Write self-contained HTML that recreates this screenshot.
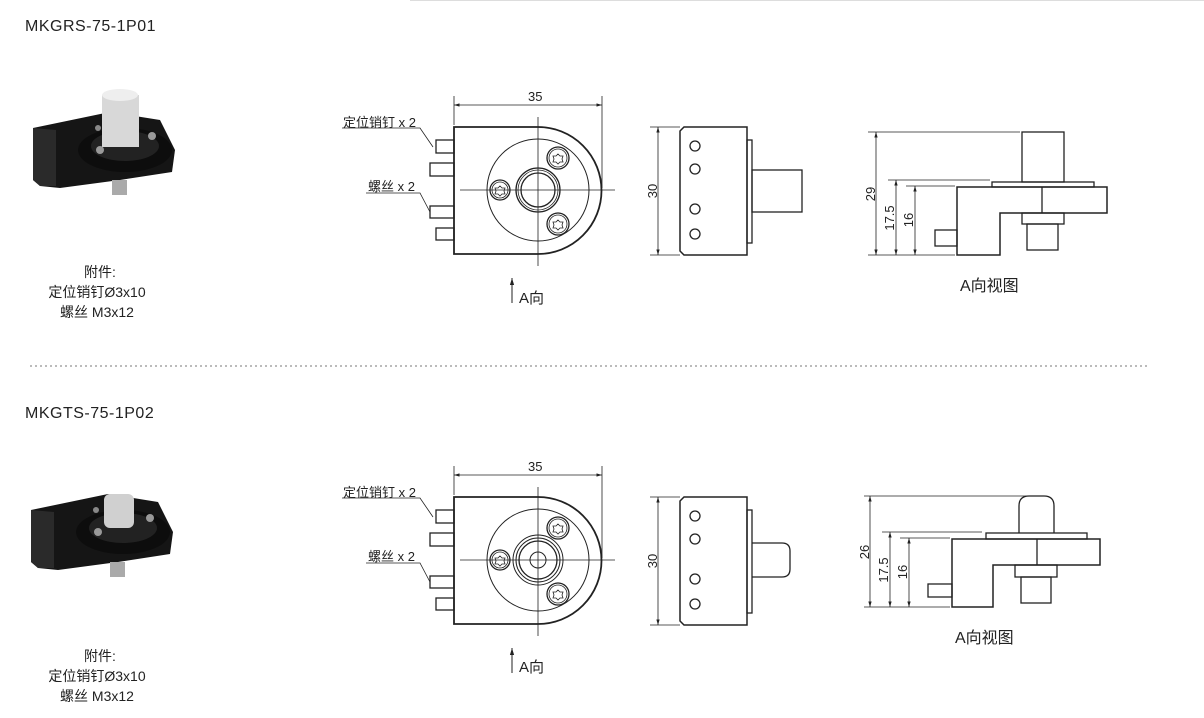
<!DOCTYPE html>
<html><head><meta charset="utf-8"><style>
html,body{margin:0;padding:0;background:#fff;}
svg{display:block;}
text{font-family:"Liberation Sans","Noto Sans CJK SC",sans-serif;fill:#222;}
</style></head><body>
<svg width="1204" height="718" viewBox="0 0 1204 718" xmlns="http://www.w3.org/2000/svg">
<defs>
<marker id="ar" viewBox="0 0 10 10" refX="10" refY="5" markerWidth="7" markerHeight="7" orient="auto-start-reverse"><path d="M0,2 L10,5 L0,8 z" fill="#222"/></marker>
<g id="front" fill="none" stroke="#222" stroke-width="1.3">
  <path d="M454,127 H538 A63.5,63.5 0 0 1 538,254 H454 Z" stroke-width="1.8"/>
  <circle cx="538" cy="190" r="51" stroke-width="1"/>
  <circle cx="558" cy="158" r="11"/><circle cx="558" cy="158" r="9" stroke-width="0.8"/>
  <circle cx="558" cy="224" r="11"/><circle cx="558" cy="224" r="9" stroke-width="0.8"/>
  <circle cx="500" cy="190" r="10"/><circle cx="500" cy="190" r="8" stroke-width="0.8"/>
  <path d="M558,154 l2,2 3,0 -1,3 1,3 -3,0 -2,2 -2,-2 -3,0 1,-3 -1,-3 3,0z" stroke-width="0.8"/>
  <path d="M558,220 l2,2 3,0 -1,3 1,3 -3,0 -2,2 -2,-2 -3,0 1,-3 -1,-3 3,0z" stroke-width="0.8"/>
  <path d="M500,186 l2,2 3,0 -1,3 1,3 -3,0 -2,2 -2,-2 -3,0 1,-3 -1,-3 3,0z" stroke-width="0.8"/>
  <rect x="436" y="140" width="18" height="13"/>
  <rect x="430" y="163" width="24" height="13"/>
  <rect x="430" y="206" width="24" height="12"/>
  <rect x="436" y="228" width="18" height="12"/>
  <line x1="538" y1="117" x2="538" y2="266" stroke-width="0.8"/>
  <line x1="460" y1="190" x2="615" y2="190" stroke-width="0.8"/>
  <line x1="454" y1="96" x2="454" y2="125" stroke-width="0.8"/>
  <line x1="602" y1="96" x2="602" y2="188" stroke-width="0.8"/>
  <line x1="454" y1="105" x2="602" y2="105" stroke-width="0.8" marker-start="url(#ar)" marker-end="url(#ar)"/>
  <polyline points="342,128 420,128 433,147" stroke-width="0.8"/>
  <polyline points="366,193 420,193 430,212" stroke-width="0.8"/>
  <line x1="512" y1="303" x2="512" y2="278" stroke-width="1" marker-end="url(#ar)"/>
</g>
<g id="side" fill="none" stroke="#222" stroke-width="1.3">
  <path d="M684,127 H747 V255 H684 L680,251 V131 Z" stroke-width="1.5"/>
  <rect x="747" y="140" width="5" height="103"/>
  <circle cx="695" cy="146" r="5"/><circle cx="695" cy="169" r="5"/>
  <circle cx="695" cy="209" r="5"/><circle cx="695" cy="234" r="5"/>
  <line x1="650" y1="127" x2="680" y2="127" stroke-width="0.8"/>
  <line x1="650" y1="255" x2="680" y2="255" stroke-width="0.8"/>
  <line x1="658" y1="127" x2="658" y2="255" stroke-width="0.8" marker-start="url(#ar)" marker-end="url(#ar)"/>
</g>
</defs>

<line x1="410" y1="0.5" x2="1204" y2="0.5" stroke="#ddd"/>
<line x1="30" y1="366" x2="1150" y2="366" stroke="#777" stroke-dasharray="2,3"/>

<text x="25" y="31" font-size="16" letter-spacing="0.5">MKGRS-75-1P01</text>
<text x="25" y="418" font-size="16" letter-spacing="0.5">MKGTS-75-1P02</text>

<g font-size="14" text-anchor="middle">
<text x="100" y="277">附件:</text><text x="97" y="297">定位销钉Ø3x10</text><text x="97" y="317">螺丝 M3x12</text>
<text x="100" y="661">附件:</text><text x="97" y="681">定位销钉Ø3x10</text><text x="97" y="701">螺丝 M3x12</text>
</g>

<!-- photos -->
<g>
 <path d="M33,128 L110,112 L160,120 L175,150 L172,172 L120,180 L60,188 L40,186 L33,180 Z" fill="#151515"/>
 <path d="M33,128 L56,130 L56,186 L40,186 L33,180Z" fill="#2a2a2a"/>
 <ellipse cx="125" cy="150" rx="47" ry="22" fill="#0d0d0d"/>
 <ellipse cx="125" cy="146" rx="34" ry="15" fill="#222"/>
 <rect x="102" y="95" width="37" height="52" fill="#d8d8d8"/>
 <ellipse cx="120" cy="95" rx="18" ry="6" fill="#eee"/>
 <rect x="112" y="180" width="15" height="15" fill="#aaa"/>
 <circle cx="100" cy="150" r="4" fill="#999"/><circle cx="152" cy="136" r="4" fill="#999"/><circle cx="98" cy="128" r="3" fill="#888"/>
</g>
<g transform="translate(-2,382)">
 <path d="M33,128 L110,112 L160,120 L175,150 L172,172 L120,180 L60,188 L40,186 L33,180 Z" fill="#151515"/>
 <path d="M33,128 L56,130 L56,186 L40,186 L33,180Z" fill="#2a2a2a"/>
 <ellipse cx="125" cy="150" rx="47" ry="22" fill="#0d0d0d"/>
 <ellipse cx="125" cy="146" rx="34" ry="15" fill="#222"/>
 <rect x="106" y="112" width="30" height="34" rx="6" fill="#d0d0d0"/>
 <rect x="112" y="180" width="15" height="15" fill="#aaa"/>
 <circle cx="100" cy="150" r="4" fill="#999"/><circle cx="152" cy="136" r="4" fill="#999"/><circle cx="98" cy="128" r="3" fill="#888"/>
</g>

<!-- row 1 front -->
<use href="#front"/>
<g fill="none" stroke="#222">
 <circle cx="538" cy="190" r="22" stroke-width="1.3"/><circle cx="538" cy="190" r="20" stroke-width="0.8"/><circle cx="538" cy="190" r="17" stroke-width="1.3"/>
</g>
<text x="528" y="101" font-size="13">35</text>
<text x="343" y="127" font-size="13">定位销钉 x 2</text>
<text x="368" y="191" font-size="13">螺丝 x 2</text>
<text x="519" y="303" font-size="15">A向</text>

<!-- row 2 front -->
<use href="#front" transform="translate(0,370)"/>
<g fill="none" stroke="#222">
 <circle cx="538" cy="560" r="25" stroke-width="1"/><circle cx="538" cy="560" r="22" stroke-width="1"/><circle cx="538" cy="560" r="19" stroke-width="1.3"/><circle cx="538" cy="560" r="8" stroke-width="1"/>
</g>
<text x="528" y="471" font-size="13">35</text>
<text x="343" y="497" font-size="13">定位销钉 x 2</text>
<text x="368" y="561" font-size="13">螺丝 x 2</text>
<text x="519" y="672" font-size="15">A向</text>

<!-- side views -->
<use href="#side"/>
<rect x="752" y="170" width="50" height="42" fill="none" stroke="#222" stroke-width="1.3"/>
<text transform="translate(657,191) rotate(-90)" font-size="13" text-anchor="middle">30</text>
<use href="#side" transform="translate(0,370)"/>
<path d="M752,543 H782 Q790,543 790,551 V569 Q790,577 782,577 H752" fill="none" stroke="#222" stroke-width="1.3"/>
<text transform="translate(657,561) rotate(-90)" font-size="13" text-anchor="middle">30</text>

<!-- A view 1 -->
<g fill="none" stroke="#222" stroke-width="1.3">
 <rect x="1022" y="132" width="42" height="50"/>
 <rect x="992" y="182" width="102" height="5"/>
 <path d="M957,187 H1107 V213 H1000 V255 H957 Z" stroke-width="1.5"/>
 <line x1="1042" y1="187" x2="1042" y2="213"/>
 <rect x="1022" y="213" width="42" height="11"/>
 <rect x="1027" y="224" width="31" height="26"/>
 <rect x="935" y="230" width="22" height="16"/>
 <g stroke-width="0.8">
 <line x1="868" y1="132" x2="1020" y2="132"/>
 <line x1="888" y1="180" x2="990" y2="180"/>
 <line x1="906" y1="186" x2="955" y2="186"/>
 <line x1="868" y1="255" x2="955" y2="255"/>
 <line x1="876" y1="132" x2="876" y2="255" marker-start="url(#ar)" marker-end="url(#ar)"/>
 <line x1="896" y1="180" x2="896" y2="255" marker-start="url(#ar)" marker-end="url(#ar)"/>
 <line x1="915" y1="186" x2="915" y2="255" marker-start="url(#ar)" marker-end="url(#ar)"/>
 </g>
</g>
<g font-size="13" text-anchor="middle">
 <text transform="translate(875,194) rotate(-90)">29</text>
 <text transform="translate(894,218) rotate(-90)">17.5</text>
 <text transform="translate(913,220) rotate(-90)">16</text>
</g>
<text x="960" y="291" font-size="16">A向视图</text>

<!-- A view 2 -->
<g fill="none" stroke="#222" stroke-width="1.3">
 <path d="M1019,533 V506 Q1019,496 1029,496 H1044 Q1054,496 1054,506 V533"/>
 <rect x="986" y="533" width="101" height="6"/>
 <path d="M952,539 H1100 V565 H993 V607 H952 Z" stroke-width="1.5"/>
 <line x1="1037" y1="539" x2="1037" y2="565"/>
 <rect x="1015" y="565" width="42" height="12"/>
 <rect x="1021" y="577" width="30" height="26"/>
 <rect x="928" y="584" width="24" height="13"/>
 <g stroke-width="0.8">
 <line x1="864" y1="496" x2="1030" y2="496"/>
 <line x1="882" y1="532" x2="982" y2="532"/>
 <line x1="900" y1="538" x2="950" y2="538"/>
 <line x1="864" y1="607" x2="950" y2="607"/>
 <line x1="870" y1="496" x2="870" y2="607" marker-start="url(#ar)" marker-end="url(#ar)"/>
 <line x1="890" y1="532" x2="890" y2="607" marker-start="url(#ar)" marker-end="url(#ar)"/>
 <line x1="909" y1="538" x2="909" y2="607" marker-start="url(#ar)" marker-end="url(#ar)"/>
 </g>
</g>
<g font-size="13" text-anchor="middle">
 <text transform="translate(869,552) rotate(-90)">26</text>
 <text transform="translate(888,570) rotate(-90)">17.5</text>
 <text transform="translate(907,572) rotate(-90)">16</text>
</g>
<text x="955" y="643" font-size="16">A向视图</text>
</svg>
</body></html>
